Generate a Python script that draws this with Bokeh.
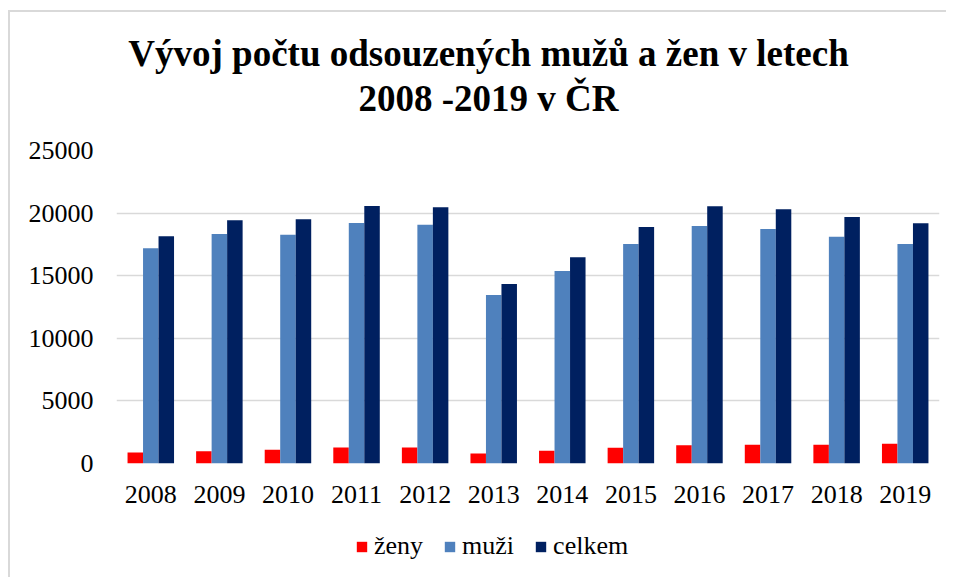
from bokeh.plotting import figure
from bokeh.models import FixedTicker, Label, Legend, LegendItem, ColumnDataSource, Range1d
from bokeh.layouts import column
from bokeh.transform import dodge
from bokeh.embed import file_html
from bokeh.resources import INLINE

years = ["2008", "2009", "2010", "2011", "2012", "2013", "2014", "2015", "2016", "2017", "2018", "2019"]
zeny = [880, 985, 1090, 1280, 1280, 800, 1010, 1250, 1460, 1490, 1490, 1570]
muzi = [17190, 18330, 18270, 19210, 19070, 13460, 15380, 17530, 18970, 18730, 18120, 17530]
celkem = [18150, 19420, 19500, 20560, 20460, 14340, 16470, 18890, 20540, 20300, 19680, 19180]
y_ticks = [0, 5000, 10000, 15000, 20000, 25000]
series_keys = ["zeny", "muzi", "celkem"]
series_names = ["ženy", "muži", "celkem"]
colors = ["#FF0000", "#4F81BD", "#002060"]
title_lines = ["Vývoj počtu odsouzených mužů a žen v letech", "2008 -2019 v ČR"]

FONT = "Liberation Serif"
W = 936
BW = 0.226
offsets = [-BW, 0, BW]

src = ColumnDataSource(dict(year=years, zeny=zeny, muzi=muzi, celkem=celkem))

# ---- title figure ----
t = figure(width=W, height=120, x_range=Range1d(0, 1), y_range=Range1d(0, 1),
           x_axis_type=None, y_axis_type=None, output_backend="svg", toolbar_location=None,
           min_border=0)
t.outline_line_color = None
t.grid.visible = False
for txt, yy in zip(title_lines, [79, 34]):
    t.add_layout(Label(x=372, y=yy, x_units="screen", y_units="screen", text=txt,
                       text_font=FONT, text_font_style="bold", text_font_size="37px",
                       text_align="center", text_baseline="alphabetic", text_color="black"))

# ---- main figure ----
p = figure(x_range=years, y_range=(0, 25000), width=W, height=386,
           output_backend="svg", toolbar_location=None,
           min_border_left=106, min_border_right=7, min_border_top=18, min_border_bottom=55)
p.outline_line_color = None

for key, off, col in zip(series_keys, offsets, colors):
    p.vbar(x=dodge("year", off, range=p.x_range), top=key, width=BW, source=src,
           fill_color=col, line_color=None)

p.yaxis.ticker = FixedTicker(ticks=y_ticks)
p.ygrid.grid_line_color = "#d9d9d9"
p.ygrid.grid_line_width = 1.5
p.xgrid.grid_line_color = None
p.yaxis.axis_line_color = None
p.xaxis.axis_line_color = None
p.yaxis.major_tick_line_color = None
p.xaxis.major_tick_line_color = None
p.yaxis.minor_tick_line_color = None
p.yaxis.major_tick_out = 0
p.xaxis.major_tick_out = 0
p.yaxis.major_label_standoff = 23
p.xaxis.major_label_standoff = 22
for ax in (p.xaxis, p.yaxis):
    ax.major_label_text_font = FONT
    ax.major_label_text_font_size = "26px"
    ax.major_label_text_color = "black"

# ---- legend figure (same series; its bars lie outside its view) ----
lf = figure(width=W, height=59, x_range=years, y_range=Range1d(1e6, 2e6),
            x_axis_type=None, y_axis_type=None, output_backend="svg", toolbar_location=None,
            min_border=0)
lf.outline_line_color = None
lf.grid.visible = False
items = []
for key, name, off, col in zip(series_keys, series_names, offsets, colors):
    r = lf.vbar(x=dodge("year", off, range=lf.x_range), top=key, width=BW, source=src,
                fill_color=col, line_color=None)
    items.append(LegendItem(label=name, renderers=[r]))
legend = Legend(items=items, orientation="horizontal", location=(239, 16),
                glyph_width=13, glyph_height=13, label_standoff=6, spacing=20,
                padding=0, margin=0, border_line_color=None, background_fill_alpha=0,
                label_text_font=FONT, label_text_font_size="26px", label_height=26,
                label_text_color="black")
lf.add_layout(legend, "center")

layout = column(t, p, lf, spacing=0,
                styles={"margin-left": "8px", "margin-top": "10px",
                        "border-left": "2px solid #d9d9d9", "border-top": "2px solid #d9d9d9"})
open("out.html", "w").write(file_html(layout, INLINE))
